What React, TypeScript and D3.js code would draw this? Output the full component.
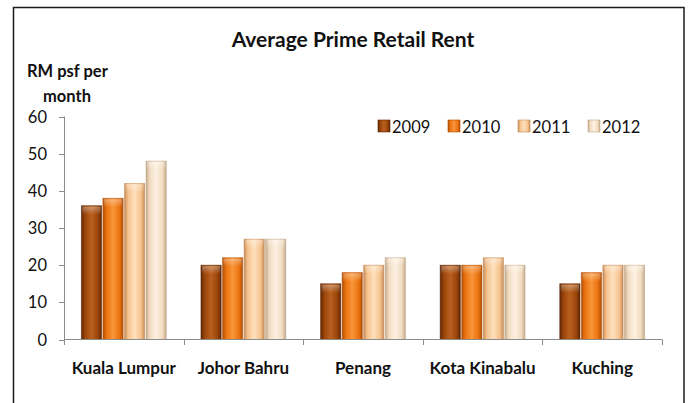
import React, { useEffect, useRef } from 'react';
import * as d3 from 'd3';

const categories = ['Kuala Lumpur', 'Johor Bahru', 'Penang', 'Kota Kinabalu', 'Kuching'];
const years = ['2009', '2010', '2011', '2012'];
const rent2009 = [36, 20, 15, 20, 15];
const rent2010 = [38, 22, 18, 20, 18];
const rent2011 = [42, 27, 20, 22, 20];
const rent2012 = [48, 27, 22, 20, 20];
const yTicks = [0, 10, 20, 30, 40, 50, 60];

// edge / base / highlight per series, for the bevelled look
const shades = [
  ['#5e2604', '#9a4409', '#b9601f'],
  ['#b04e06', '#ea730f', '#f9953a'],
  ['#c48b59', '#f6c28c', '#fde0bd'],
  ['#c2a88a', '#f1dbc0', '#fdf1e2'],
];

const FONT = 'Lato, "Open Sans", sans-serif';

const App = () => {
  const ref = useRef<SVGSVGElement>(null);

  useEffect(() => {
    const W = 689, H = 403;
    const svg = d3.select(ref.current).attr('width', W).attr('height', H);
    svg.selectAll('*').remove();

    const series = [rent2009, rent2010, rent2011, rent2012];

    const defs = svg.append('defs');
    shades.forEach((s, i) => {
      const g = defs.append('linearGradient').attr('id', 'bar' + i)
        .attr('x1', 0).attr('x2', 1).attr('y1', 0).attr('y2', 0);
      g.append('stop').attr('offset', '0%').attr('stop-color', s[0]);
      g.append('stop').attr('offset', '18%').attr('stop-color', s[1]);
      g.append('stop').attr('offset', '50%').attr('stop-color', s[2]);
      g.append('stop').attr('offset', '82%').attr('stop-color', s[1]);
      g.append('stop').attr('offset', '100%').attr('stop-color', s[0]);
      const v = defs.append('linearGradient').attr('id', 'top' + i)
        .attr('x1', 0).attr('x2', 0).attr('y1', 0).attr('y2', 1);
      v.append('stop').attr('offset', '0%').attr('stop-color', '#fff').attr('stop-opacity', 0.35);
      v.append('stop').attr('offset', '100%').attr('stop-color', '#fff').attr('stop-opacity', 0);
    });

    // frame
    svg.append('rect')
      .attr('x', 13.5).attr('y', 7.5).attr('width', 670.5).attr('height', 410)
      .attr('fill', '#fff').attr('stroke', '#1a1a1a').attr('stroke-width', 1.5);

    const x0 = d3.scaleBand().domain(categories).range([64, 662]).paddingInner(0.29).paddingOuter(0.145);
    const x1 = d3.scaleBand().domain(years).range([0, x0.bandwidth()]).paddingInner(0.06);
    const y = d3.scaleLinear().domain([0, 60]).range([339.5, 116.5]);

    // y axis
    svg.append('line').attr('x1', 64.5).attr('x2', 64.5).attr('y1', y(60)).attr('y2', y(0))
      .attr('stroke', '#8c8c8c').attr('stroke-width', 1);
    const yt = svg.selectAll('.yt').data(yTicks).enter().append('g')
      .attr('transform', d => `translate(0,${Math.round(y(d)) + 0.5})`);
    yt.append('line').attr('x1', 59).attr('x2', 64.5).attr('stroke', '#8c8c8c');
    yt.append('text').attr('x', 47).attr('dy', '0.35em').attr('text-anchor', 'end')
      .attr('font-family', FONT).attr('font-size', 16.5).attr('fill', '#111').text(d => d);

    // bars
    const step = x0.step();
    const groups = svg.selectAll('.grp').data(categories).enter().append('g')
      .attr('transform', d => `translate(${x0(d)},0)`);
    series.forEach((vals, si) => {
      groups.append('rect')
        .attr('x', x1(years[si])!)
        .attr('y', (_d, ci) => y(vals[ci]))
        .attr('width', x1.bandwidth())
        .attr('height', (_d, ci) => y(0) - y(vals[ci]))
        .attr('fill', `url(#bar${si})`)
        .attr('stroke', shades[si][0]).attr('stroke-opacity', 0.6).attr('stroke-width', 0.8);
      groups.append('rect')
        .attr('x', x1(years[si])! + 1)
        .attr('y', (_d, ci) => y(vals[ci]) + 1)
        .attr('width', x1.bandwidth() - 2)
        .attr('height', 8)
        .attr('fill', `url(#top${si})`);
    });

    // x axis
    svg.append('line').attr('x1', 64).attr('x2', 662).attr('y1', 339.5).attr('y2', 339.5)
      .attr('stroke', '#8c8c8c').attr('stroke-width', 1.2);
    const seps = categories.map(c => x0(c)! - step * 0.145).concat([662]);
    svg.selectAll('.xs').data(seps).enter().append('line')
      .attr('x1', d => Math.round(d) + 0.5).attr('x2', d => Math.round(d) + 0.5)
      .attr('y1', 339.5).attr('y2', 345).attr('stroke', '#8c8c8c');
    svg.selectAll('.xl').data(categories).enter().append('text')
      .attr('x', d => x0(d)! + x0.bandwidth() / 2).attr('y', 374)
      .attr('text-anchor', 'middle').attr('font-family', FONT).attr('font-weight', 700)
      .attr('font-size', 17).attr('fill', '#111').text(d => d);

    // titles
    svg.append('text').attr('x', 353).attr('y', 47).attr('text-anchor', 'middle')
      .attr('font-family', FONT).attr('font-weight', 700).attr('font-size', 21)
      .attr('fill', '#111').text('Average Prime Retail Rent');
    svg.append('text').attr('x', 27).attr('y', 77)
      .attr('font-family', FONT).attr('font-weight', 700).attr('font-size', 16.5)
      .attr('fill', '#111').text('RM psf per');
    svg.append('text').attr('x', 43).attr('y', 102)
      .attr('font-family', FONT).attr('font-weight', 700).attr('font-size', 16.5)
      .attr('fill', '#111').text('month');

    // legend
    const lg = svg.selectAll('.lg').data(years).enter().append('g')
      .attr('transform', (_d, i) => `translate(${378 + i * 70},120)`);
    lg.append('rect').attr('width', 12).attr('height', 12)
      .attr('fill', (_d, i) => `url(#bar${i})`)
      .attr('stroke', (_d, i) => shades[i][0]).attr('stroke-width', 0.6);
    lg.append('text').attr('x', 14).attr('y', 12.5)
      .attr('font-family', FONT).attr('font-size', 16.5).attr('fill', '#111').text(d => d);
  }, []);

  return <svg ref={ref} style={{ position: 'absolute', left: 0, top: 0 }}></svg>;
};

export default App;
